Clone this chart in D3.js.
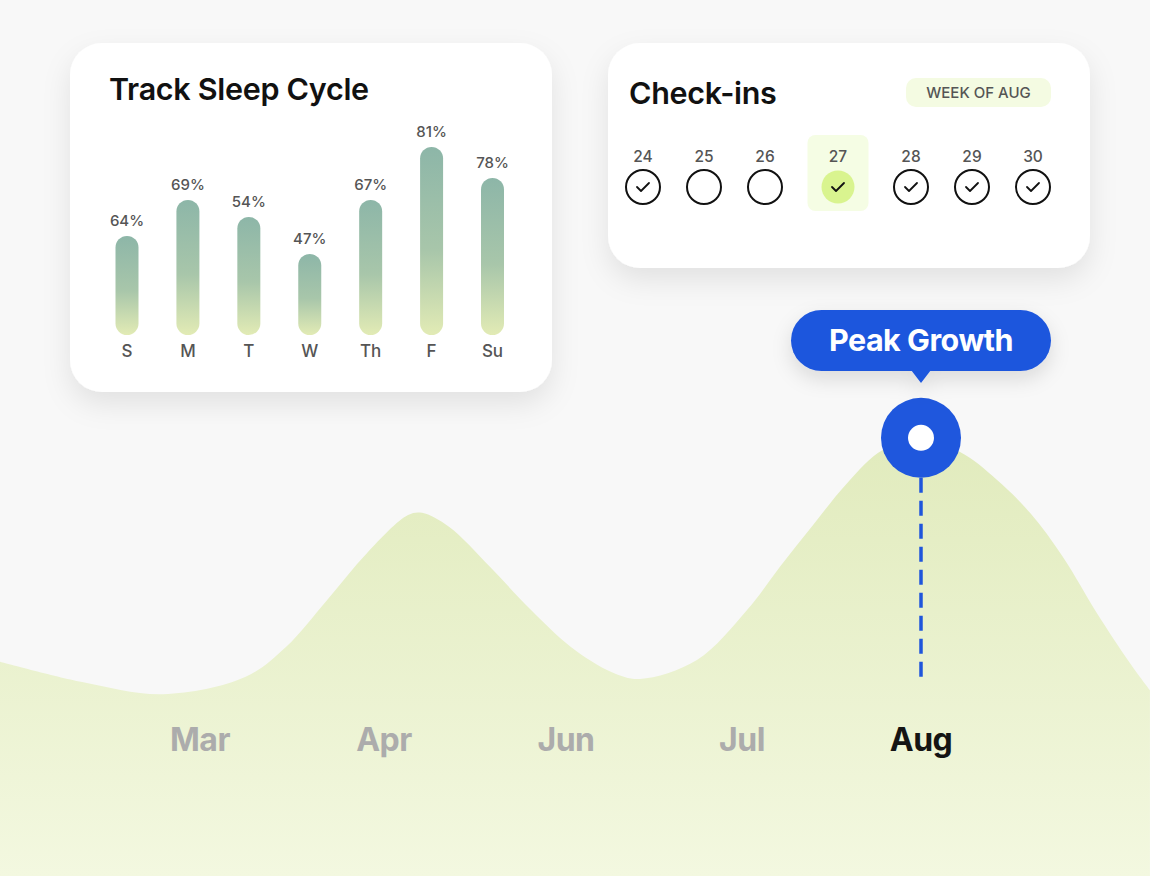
<!DOCTYPE html>
<html><head><meta charset="utf-8">
<script src="https://cdn.jsdelivr.net/npm/d3@7"></script>
<style>
html,body{margin:0;padding:0;background:#f8f8f8;}
svg{display:block;font-family:Inter,"Noto Sans",sans-serif;}
</style></head>
<body><svg id="c" width="1150" height="876"></svg>
<script>
// ---- data ----
const sleepDays = ["S","M","T","W","Th","F","Su"];
const sleepPct = [64,69,54,47,67,81,78];                 // labels shown above bars
const sleepBarLevel = [49.5,67.5,59,40.5,67.5,94,78.5];  // bar heights (0-100)
const checkDays = [24,25,26,27,28,29,30];
const checkDone = [true,false,false,true,true,true,true];
const todayDay = 27;
const months = ["Mar","Apr","Jun","Jul","Aug"];
const activeMonth = "Aug";
// growth curve samples: position in month-index units (Mar=0 ... Aug=4), value 0-100
const growthPos = [-1.087,-0.641,-0.201,0.245,0.467,0.690,0.908,1.132,1.209,1.357,1.582,1.808,2.028,2.261,2.420,2.744,3.028,3.212,3.397,3.587,3.788,4.000,4.218,4.425,4.609,4.793,4.983,5.168,5.279];
const growthVal = [47.6,43.1,40.4,44.2,50.9,61.3,71.8,80.2,80.7,77.6,68.7,59.1,50.9,45.3,43.8,48.0,59.1,68.7,78.0,87.3,94.7,96.7,94.2,88.0,80.7,70.9,58.4,47.3,41.3];
const peakMonthIndex = 4;
const peakLabel = "Peak Growth";

const svg = d3.select("#c");
const defs = svg.append("defs");

// gradients & filters
const ag = defs.append("linearGradient").attr("id","areaGrad").attr("x1",0).attr("y1",0).attr("x2",0).attr("y2",1);
ag.append("stop").attr("offset","0%").attr("stop-color","#e1ebbd");
ag.append("stop").attr("offset","100%").attr("stop-color","#f3f8e0");
const bg = defs.append("linearGradient").attr("id","barGrad").attr("x1",0).attr("y1",0).attr("x2",0).attr("y2",1);
bg.append("stop").attr("offset","0%").attr("stop-color","#8db6a8");
bg.append("stop").attr("offset","55%").attr("stop-color","#a8c6aa");
bg.append("stop").attr("offset","100%").attr("stop-color","#e2ebb5");
const sh = defs.append("filter").attr("id","shadow").attr("x","-20%").attr("y","-20%").attr("width","140%").attr("height","150%");
sh.append("feDropShadow").attr("dx",0).attr("dy",12).attr("stdDeviation",14).attr("flood-color","#000").attr("flood-opacity",0.09);
const sh2 = defs.append("filter").attr("id","shadow2").attr("x","-20%").attr("y","-30%").attr("width","140%").attr("height","180%");
sh2.append("feDropShadow").attr("dx",0).attr("dy",8).attr("stdDeviation",10).attr("flood-color","#000").attr("flood-opacity",0.12);

// background
svg.append("rect").attr("width",1150).attr("height",876).attr("fill","#f8f8f8");

// ---- growth area ----
const x = d3.scaleLinear().domain([0,1,2,3,4]).range([200,384,566,742,921]);
const y = d3.scaleLinear().domain([0,100]).range([876,426]);
const gData = growthPos.map((p,i)=>({p,v:growthVal[i]}));
const area = d3.area().x(d=>x(d.p)).y0(876).y1(d=>y(d.v)).curve(d3.curveCatmullRom.alpha(0.5));
svg.append("path").datum(gData).attr("d",area).attr("fill","url(#areaGrad)");

// month labels
svg.append("g").selectAll("text").data(months).join("text")
  .attr("x",(d,i)=>x(i)).attr("y",751).attr("text-anchor","middle")
  .attr("font-size",32).attr("font-weight",700).attr("letter-spacing",-0.5)
  .attr("fill",d=>d===activeMonth?"#141414":"#acacac").text(d=>d);

// peak marker
const px = x(peakMonthIndex);
const peakV = d3.max(growthVal);
const py = y(peakV) - 3;
svg.append("line").attr("x1",px).attr("x2",px).attr("y1",py+40).attr("y2",679)
  .attr("stroke","#1f55db").attr("stroke-width",3.5).attr("stroke-dasharray","15,8");
svg.append("circle").attr("cx",px).attr("cy",py).attr("r",40).attr("fill","#1f57dd");
svg.append("circle").attr("cx",px).attr("cy",py).attr("r",13).attr("fill","#fff");

// tooltip
const tt = svg.append("g").attr("filter","url(#shadow2)");
tt.append("rect").attr("x",px-130).attr("y",310).attr("width",260).attr("height",61).attr("rx",30.5).attr("fill","#1f57dd");
tt.append("path").attr("d",`M${px-10},370 L${px},383 L${px+10},370 Z`).attr("fill","#1f57dd");
svg.append("text").attr("x",px).attr("y",350.5).attr("text-anchor","middle").attr("font-size",30.5)
  .attr("font-weight",700).attr("letter-spacing",-0.5).attr("fill","#fff").text(peakLabel);

// ---- Sleep card ----
const c1 = svg.append("g");
c1.append("rect").attr("x",70).attr("y",43).attr("width",482).attr("height",349).attr("rx",32)
  .attr("fill","#fff").attr("filter","url(#shadow)");
c1.append("text").attr("x",109).attr("y",100).attr("font-size",30.5).attr("font-weight",600)
  .attr("letter-spacing",-0.3).attr("fill","#111").text("Track Sleep Cycle");
const bx = d3.scalePoint().domain(sleepDays).range([127,492.5]);
const bh = d3.scaleLinear().domain([0,100]).range([0,200]);
const barW = 23, barBottom = 335;
const bars = c1.append("g").selectAll("g").data(sleepDays.map((d,i)=>({d,pct:sleepPct[i],lvl:sleepBarLevel[i]}))).join("g");
bars.append("rect").attr("x",d=>bx(d.d)-barW/2).attr("y",d=>barBottom-bh(d.lvl))
  .attr("width",barW).attr("height",d=>bh(d.lvl)).attr("rx",barW/2).attr("fill","url(#barGrad)");
bars.append("text").attr("x",d=>bx(d.d)).attr("y",d=>barBottom-bh(d.lvl)-10).attr("text-anchor","middle")
  .attr("font-size",15).attr("font-weight",500).attr("fill","#555").text(d=>d.pct+"%");
bars.append("text").attr("x",d=>bx(d.d)).attr("y",357).attr("text-anchor","middle")
  .attr("font-size",17).attr("font-weight",500).attr("fill","#555").text(d=>d.d);

// ---- Check-ins card ----
const c2 = svg.append("g");
c2.append("rect").attr("x",608).attr("y",43).attr("width",482).attr("height",225).attr("rx",32)
  .attr("fill","#fff").attr("filter","url(#shadow)");
c2.append("text").attr("x",629).attr("y",104).attr("font-size",30.5).attr("font-weight",600)
  .attr("letter-spacing",-0.3).attr("fill","#111").text("Check-ins");
c2.append("rect").attr("x",906).attr("y",78).attr("width",145).attr("height",29).attr("rx",10).attr("fill","#f4fbe2");
c2.append("text").attr("x",978.5).attr("y",98).attr("text-anchor","middle").attr("font-size",15)
  .attr("font-weight",500).attr("fill","#555").text("WEEK OF AUG");

// layout: items of width 36 (+24 when highlighted) with gap 25
const itemW = checkDays.map(d=>36+(d===todayDay?24:0));
let acc = 625; const cx = [];
itemW.forEach((w,i)=>{cx.push(acc+w/2); acc+=w+25;});
const items = c2.append("g").selectAll("g").data(checkDays.map((d,i)=>({d,done:checkDone[i],cx:cx[i]}))).join("g");
items.filter(d=>d.d===todayDay).append("rect").attr("x",d=>d.cx-30.5).attr("y",135).attr("width",61).attr("height",76)
  .attr("rx",8).attr("fill","#f5fde4");
items.append("text").attr("x",d=>d.cx).attr("y",162).attr("text-anchor","middle").attr("font-size",15.5)
  .attr("font-weight",500).attr("fill","#555").text(d=>d.d);
items.append("circle").attr("cx",d=>d.cx).attr("cy",187).attr("r",d=>d.d===todayDay?16.5:17)
  .attr("fill",d=>d.d===todayDay?"#d9f48f":"none").attr("stroke",d=>d.d===todayDay?"none":"#111").attr("stroke-width",2);
items.filter(d=>d.done).append("path").attr("d",d=>`M${d.cx-6},${187} L${d.cx-2},${191} L${d.cx+6},${183}`)
  .attr("fill","none").attr("stroke","#111").attr("stroke-width",1.8).attr("stroke-linecap","round").attr("stroke-linejoin","round");
</script></body></html>
